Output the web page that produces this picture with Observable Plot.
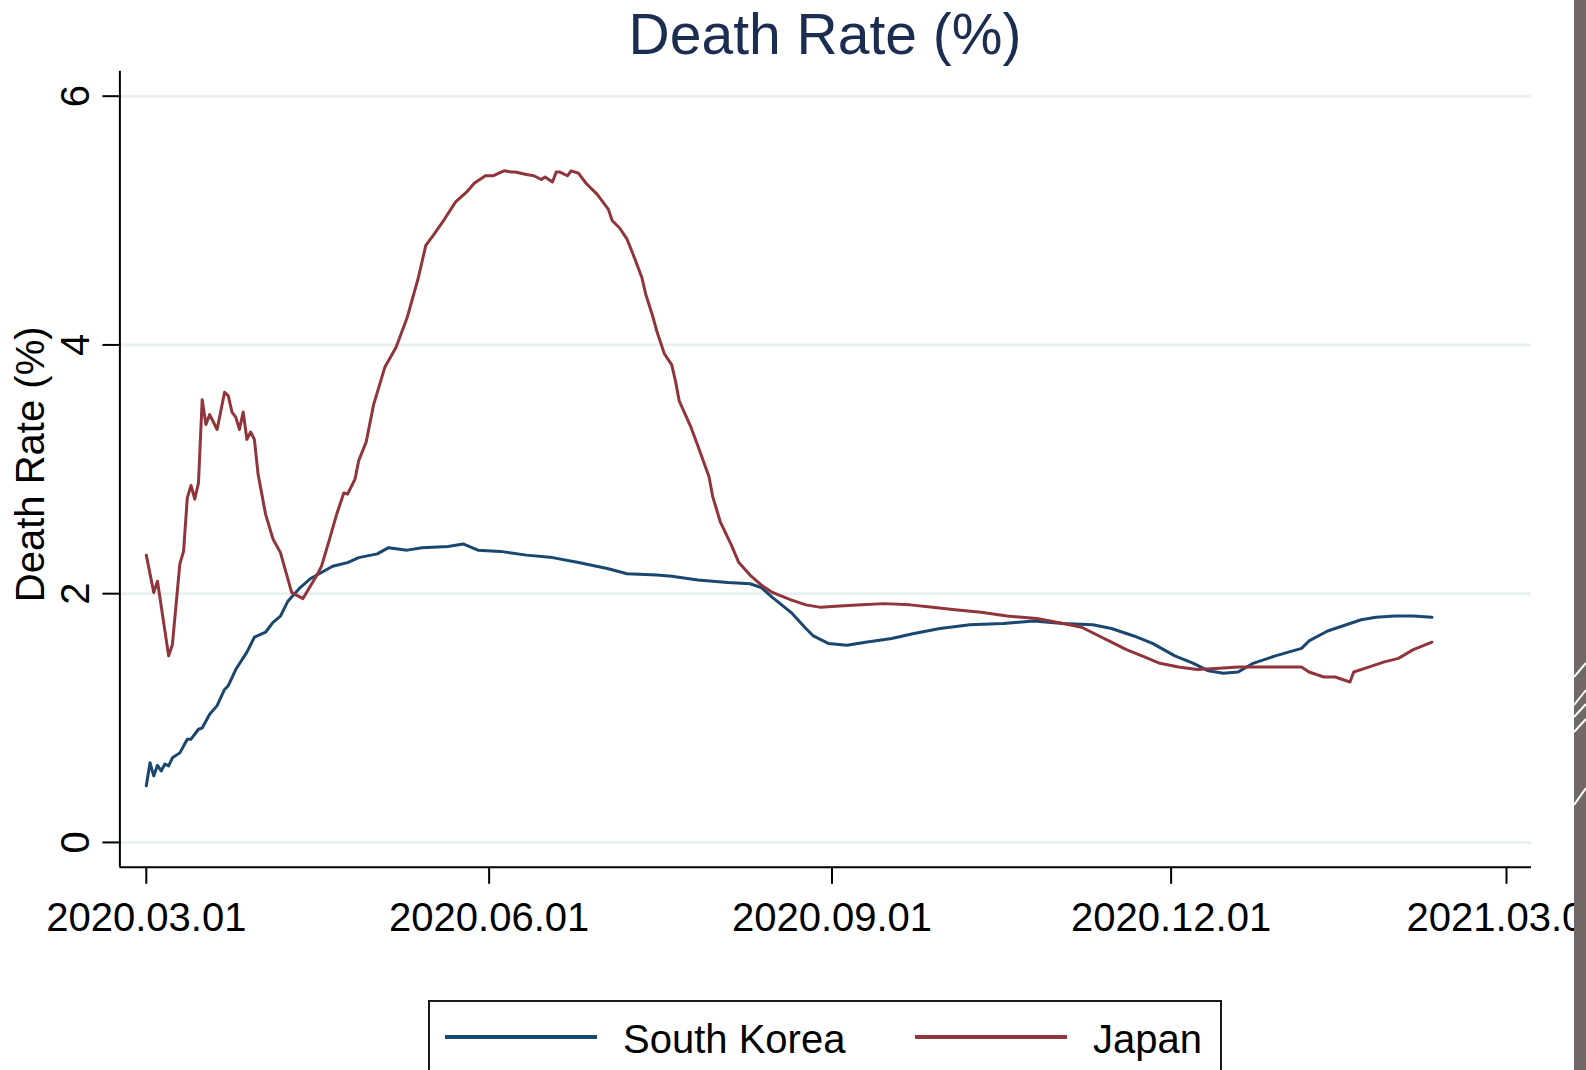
<!DOCTYPE html>
<html>
<head>
<meta charset="utf-8">
<script src="https://cdn.jsdelivr.net/npm/d3@7"></script>
<script src="https://cdn.jsdelivr.net/npm/@observablehq/plot@0.6"></script>
<style>
html, body { margin: 0; padding: 0; background: #fff; width: 1586px; height: 1070px; overflow: hidden;
  font-family: "Liberation Sans", Arial, sans-serif; }
#wrap { position: relative; width: 1586px; height: 1070px; overflow: hidden; }
#title { position: relative; height: 65px; }
#title span { position: absolute; left: 0; top: 6px; width: 1650px; text-align: center; font-size: 57px;
  line-height: 57px; color: #1c2d52; white-space: nowrap; }
#chart { height: 905px; }
#chart svg { display: block; }
#legend { position: relative; height: 100px; overflow: hidden; }
#legend .box { position: absolute; left: 428px; top: 30px; width: 794px; height: 130px; box-sizing: border-box;
  border: 2px solid #1a1a1a; }
#legend .sw { position: absolute; height: 4px; width: 152px; top: 65px; }
#legend .lab { position: absolute; top: 49px; font-size: 40px; line-height: 40px; color: #000; white-space: nowrap; }
#strip { position: absolute; left: 1574px; top: 0; width: 12px; height: 1070px; background: #6f6867; z-index: 10; }
</style>
</head>
<body>
<div id="wrap">
  <div id="title"><span>Death Rate (%)</span></div>
  <div id="chart"></div>
  <div id="legend"></div>
  <div id="strip">
    <svg width="12" height="1070" style="display:block">
      <g stroke="#fff" stroke-width="2">
        <line x1="0" y1="677" x2="12" y2="663"/>
        <line x1="0" y1="705" x2="12" y2="690"/>
        <line x1="0" y1="717" x2="12" y2="704"/>
        <line x1="0" y1="732" x2="12" y2="719"/>
        <line x1="0" y1="805" x2="12" y2="788"/>
      </g>
    </svg>
  </div>
</div>
<script>
// ---- data ----
const seriesNames = ["South Korea", "Japan"];

const koreaDates = ["2020-03-01","2020-03-02","2020-03-03","2020-03-04","2020-03-05","2020-03-06","2020-03-07","2020-03-08",
  "2020-03-10","2020-03-12","2020-03-13","2020-03-15","2020-03-16","2020-03-18","2020-03-20","2020-03-22","2020-03-23",
  "2020-03-25","2020-03-28","2020-03-30","2020-04-02","2020-04-04","2020-04-06","2020-04-08","2020-04-11","2020-04-14",
  "2020-04-17","2020-04-20","2020-04-24","2020-04-27","2020-05-02","2020-05-05","2020-05-10","2020-05-14","2020-05-21",
  "2020-05-25","2020-05-29","2020-06-04","2020-06-11","2020-06-18","2020-06-25","2020-07-03","2020-07-08","2020-07-16",
  "2020-07-20","2020-07-27","2020-08-04","2020-08-10","2020-08-13","2020-08-16","2020-08-21","2020-08-25","2020-08-27",
  "2020-08-31","2020-09-05","2020-09-10","2020-09-17","2020-09-23","2020-09-30","2020-10-08","2020-10-17","2020-10-25",
  "2020-11-02","2020-11-10","2020-11-15","2020-11-21","2020-11-26","2020-12-02","2020-12-07","2020-12-11","2020-12-15",
  "2020-12-19","2020-12-23","2020-12-29","2021-01-05","2021-01-07","2021-01-12","2021-01-16","2021-01-21","2021-01-25",
  "2021-01-30","2021-02-04","2021-02-09"];
const koreaValues = [0.455,0.64,0.535,0.62,0.575,0.63,0.615,0.68,
  0.72,0.83,0.83,0.91,0.92,1.03,1.10,1.23,1.26,
  1.39,1.53,1.65,1.69,1.77,1.82,1.94,2.04,2.12,
  2.17,2.22,2.25,2.29,2.32,2.37,2.35,2.37,2.38,
  2.40,2.35,2.34,2.31,2.29,2.25,2.20,2.16,2.15,
  2.14,2.11,2.09,2.08,2.05,1.97,1.85,1.72,1.66,
  1.60,1.585,1.61,1.64,1.68,1.72,1.75,1.76,1.78,
  1.76,1.75,1.72,1.66,1.60,1.50,1.44,1.38,1.36,
  1.37,1.44,1.50,1.56,1.62,1.70,1.74,1.79,1.81,
  1.82,1.82,1.81];

const japanDates = ["2020-03-01","2020-03-03","2020-03-04","2020-03-07","2020-03-08","2020-03-10","2020-03-11","2020-03-12",
  "2020-03-13","2020-03-14","2020-03-15","2020-03-16","2020-03-17","2020-03-18","2020-03-20","2020-03-22","2020-03-23",
  "2020-03-24","2020-03-25","2020-03-26","2020-03-27","2020-03-28","2020-03-29","2020-03-30","2020-03-31","2020-04-02",
  "2020-04-04","2020-04-06","2020-04-09","2020-04-12","2020-04-14","2020-04-16","2020-04-17","2020-04-19","2020-04-21",
  "2020-04-23","2020-04-24","2020-04-26","2020-04-27","2020-04-29","2020-05-01","2020-05-04","2020-05-07","2020-05-10",
  "2020-05-13","2020-05-15","2020-05-17","2020-05-20","2020-05-23","2020-05-26","2020-05-28","2020-05-31","2020-06-02",
  "2020-06-05","2020-06-07","2020-06-08","2020-06-11","2020-06-13","2020-06-15","2020-06-16","2020-06-18","2020-06-19",
  "2020-06-20","2020-06-22","2020-06-23","2020-06-25","2020-06-27","2020-06-30","2020-07-03","2020-07-04","2020-07-06",
  "2020-07-08","2020-07-10","2020-07-12","2020-07-13","2020-07-15","2020-07-16","2020-07-18","2020-07-20","2020-07-21",
  "2020-07-22","2020-07-25","2020-07-27","2020-07-30","2020-07-31","2020-08-02","2020-08-05","2020-08-07","2020-08-10",
  "2020-08-13","2020-08-16","2020-08-21","2020-08-25","2020-08-29","2020-09-03","2020-09-09","2020-09-15","2020-09-22",
  "2020-09-28","2020-10-04","2020-10-11","2020-10-18","2020-10-26","2020-11-02","2020-11-07","2020-11-11","2020-11-15",
  "2020-11-19","2020-11-24","2020-11-28","2020-12-03","2020-12-08","2020-12-14","2020-12-19","2020-12-25","2020-12-30",
  "2021-01-05","2021-01-07","2021-01-11","2021-01-14","2021-01-18","2021-01-19","2021-01-23","2021-01-27","2021-01-31",
  "2021-02-04","2021-02-09"];
const japanValues = [2.31,2.01,2.10,1.50,1.59,2.24,2.34,2.77,
  2.87,2.76,2.89,3.56,3.36,3.44,3.32,3.62,3.59,
  3.46,3.42,3.32,3.46,3.24,3.30,3.24,2.96,2.64,
  2.44,2.33,2.01,1.96,2.06,2.16,2.22,2.42,2.63,
  2.81,2.80,2.92,3.07,3.22,3.52,3.82,3.98,4.22,
  4.54,4.80,4.88,5.01,5.15,5.23,5.30,5.36,5.36,
  5.40,5.39,5.39,5.37,5.36,5.33,5.35,5.31,5.39,
  5.39,5.36,5.40,5.38,5.30,5.21,5.09,5.00,4.94,
  4.85,4.70,4.54,4.41,4.22,4.11,3.93,3.84,3.71,
  3.55,3.35,3.19,2.94,2.78,2.58,2.39,2.25,2.15,
  2.07,2.01,1.95,1.91,1.89,1.90,1.91,1.92,1.91,
  1.89,1.87,1.85,1.82,1.80,1.76,1.73,1.67,1.61,
  1.55,1.49,1.44,1.41,1.39,1.40,1.41,1.41,1.41,
  1.41,1.37,1.33,1.33,1.29,1.37,1.41,1.45,1.48,
  1.55,1.61];

const yTicks = [0, 2, 4, 6];
const xTickLabels = ["2020-03-01", "2020-06-01", "2020-09-01", "2020-12-01", "2021-03-01"];
const yDomain = [-0.2, 6.2];
const xDomainLabels = ["2020-02-22T22:00Z", "2021-03-07T17:00Z"];

// ---- build ----
const parse = d3.utcParse("%Y-%m-%d");
const rows = [
  ...koreaDates.map((d, i) => ({date: parse(d), value: koreaValues[i], series: seriesNames[0]})),
  ...japanDates.map((d, i) => ({date: parse(d), value: japanValues[i], series: seriesNames[1]}))
];
const xDomain = xDomainLabels.map(s => new Date(s));
const xTicks = xTickLabels.map(parse);
const colors = ["#1a476f", "#90353b"];
const font = '"Liberation Sans", Arial, sans-serif';

const chart = Plot.plot({
  width: 1586,
  height: 905,
  marginLeft: 119.4,
  marginRight: 55,
  marginTop: 5.8,
  marginBottom: 103.2,
  style: {fontFamily: font, background: "transparent", color: "#000", overflow: "visible"},
  x: {type: "utc", domain: xDomain, label: null},
  y: {domain: yDomain, label: null},
  color: {domain: seriesNames, range: colors},
  marks: [
    Plot.gridY(yTicks, {stroke: "#e8f0f2", strokeOpacity: 1, strokeWidth: 3}),
    Plot.ruleX([xDomain[0]], {stroke: "#000", strokeWidth: 2}),
    Plot.ruleY([yDomain[0]], {stroke: "#000", strokeWidth: 2}),
    Plot.axisY(yTicks, {tickSize: 17, tickPadding: 14, tickRotate: -90, fontSize: 40, strokeWidth: 2, label: null,
      tickFormat: d => String(d)}),
    Plot.axisX(xTicks, {tickSize: 17, tickPadding: 18, fontSize: 40, strokeWidth: 2, label: null,
      tickFormat: d3.utcFormat("%Y.%m.%d")}),
    Plot.text(["Death Rate (%)"], {frameAnchor: "left", dx: -76, dy: -5, rotate: -90, textAnchor: "middle",
      lineAnchor: "bottom", fontSize: 40, fill: "#000"}),
    Plot.lineY(rows, {x: "date", y: "value", z: "series", stroke: "series", strokeWidth: 3,
      strokeLinejoin: "round"})
  ]
});
document.getElementById("chart").appendChild(chart);

// legend
const legend = document.getElementById("legend");
const box = document.createElement("div");
box.className = "box";
legend.appendChild(box);
const swLeft = [445, 915];
const labLeft = [623, 1093];
seriesNames.forEach((name, i) => {
  const sw = document.createElement("div");
  sw.className = "sw";
  sw.style.left = swLeft[i] + "px";
  sw.style.background = colors[i];
  legend.appendChild(sw);
  const lab = document.createElement("div");
  lab.className = "lab";
  lab.style.left = labLeft[i] + "px";
  lab.textContent = name;
  legend.appendChild(lab);
});
</script>
</body>
</html>
